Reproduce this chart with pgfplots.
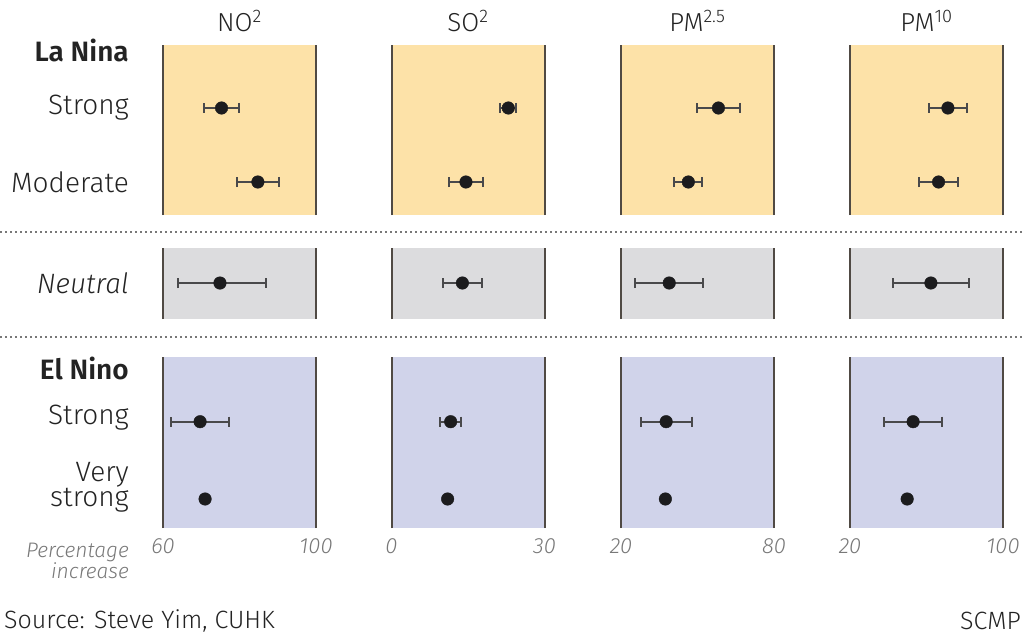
\documentclass[border=0pt]{standalone}
\usepackage{pgfplots}
\pgfplotsset{compat=1.18}
\usepackage{fontspec}
\setmainfont{Fira Sans}[UprightFont={* Light}, ItalicFont={* Light Italic}, BoldFont={* SemiBold}, BoldItalicFont={* SemiBold Italic}]

\definecolor{lanina}{RGB}{253,226,168}
\definecolor{neutral}{RGB}{220,220,222}
\definecolor{elnino}{RGB}{208,211,234}
\definecolor{edge}{RGB}{80,74,68}
\definecolor{ink}{RGB}{28,28,30}
\definecolor{txt}{RGB}{35,35,35}
\definecolor{tickc}{RGB}{120,120,120}

\pgfplotsset{
  panel/.style={
    scale only axis, anchor=north west, width=153pt, clip=false,
    ymin=0, separate axis lines,
    x axis line style={draw=none},
    y axis line style={draw=edge, line width=2pt},
    xtick=\empty, ytick=\empty,
    major tick length=0pt,
    /pgf/number format/assume math mode=true,
    xticklabel style={font=\fontsize{22}{22}\selectfont\itshape, text=tickc, yshift=-7pt},
  },
  la/.style={panel, height=170pt, ymax=170, axis background/.style={fill=lanina}},
  ne/.style={panel, height=71pt, ymax=71, axis background/.style={fill=neutral}},
  el/.style={panel, height=171pt, ymax=171, axis background/.style={fill=elnino}},
  no2/.style={xmin=60, xmax=100},
  so2/.style={xmin=0, xmax=30},
  pma/.style={xmin=20, xmax=80},
  pmb/.style={xmin=20, xmax=100},
  dot/.style={only marks, mark=*, mark size=6.3pt, color=ink},
  dotbar/.style={dot,
    error bars/.cd, x dir=both, x explicit, error mark=|,
    error bar style={line width=2pt, color=ink!80},
    error mark options={mark size=5pt, line width=2pt, color=ink!80}},
}

\begin{document}
\begin{tikzpicture}[x=1pt, y=-1pt]
\useasboundingbox (0,0) rectangle (1024,639);

% column titles
\begin{scope}[every node/.style={font=\fontsize{26}{26}\selectfont, text=txt}]
\node at (239.5,21) {NO\textsuperscript{2}};
\node at (468,21) {SO\textsuperscript{2}};
\node at (697.5,21) {PM\textsuperscript{2.5}};
\node at (926.5,21) {PM\textsuperscript{10}};
\end{scope}

% row labels
\begin{scope}[every node/.style={anchor=east, inner sep=0pt, text=txt, font=\fontsize{28}{28}\selectfont}]
\node[font=\fontsize{28}{28}\selectfont\bfseries] at (129,50) {La Nina};
\node at (129,108) {Strong};
\node at (129,182) {Moderate};
\node[font=\fontsize{28}{28}\selectfont\itshape] at (129,283) {Neutral};
\node[font=\fontsize{28}{28}\selectfont\bfseries] at (129,368) {El Nino};
\node at (129,418) {Strong};
\node[align=right, font=\fontsize{28}{24}\selectfont] at (129,487) {Very\\strong};
\node[align=right, text=tickc, font=\fontsize{21}{21}\selectfont\itshape] at (129,561) {Percentage\\increase};
\end{scope}

% separators
\draw[tickc, line width=1.5pt, dash pattern=on 1.5pt off 3.5pt] (0,232) -- (1024,232);
\draw[tickc, line width=1.5pt, dash pattern=on 1.5pt off 3.5pt] (0,337) -- (1024,337);

% ---- La Nina
\begin{axis}[la, no2, at={(163pt,-45pt)}]
\addplot[dotbar] coordinates {(75.3,107) +- (4.6,0) (84.8,33) +- (5.5,0)};
\end{axis}
\begin{axis}[la, so2, at={(391.5pt,-45pt)}]
\addplot[dotbar] coordinates {(22.9,107) +- (1.6,0) (14.6,33) +- (3.3,0)};
\end{axis}
\begin{axis}[la, pma, at={(621pt,-45pt)}]
\addplot[dotbar] coordinates {(58.2,107) +- (8.5,0) (46.4,33) +- (5.5,0)};
\end{axis}
\begin{axis}[la, pmb, at={(850pt,-45pt)}]
\addplot[dotbar] coordinates {(71.2,107) +- (10,0) (66.3,33) +- (10,0)};
\end{axis}

% ---- Neutral
\begin{axis}[ne, no2, at={(163pt,-248pt)}]
\addplot[dotbar] coordinates {(74.9,36) += (11.9,0) -= (11.1,0)};
\end{axis}
\begin{axis}[ne, so2, at={(391.5pt,-248pt)}]
\addplot[dotbar] coordinates {(13.9,36) +- (3.8,0)};
\end{axis}
\begin{axis}[ne, pma, at={(621pt,-248pt)}]
\addplot[dotbar] coordinates {(38.9,36) +- (13.3,0)};
\end{axis}
\begin{axis}[ne, pmb, at={(850pt,-248pt)}]
\addplot[dotbar] coordinates {(62.3,36) +- (19.9,0)};
\end{axis}

% ---- El Nino
\begin{axis}[el, no2, at={(163pt,-357pt)}, xtick={60,100}, xticklabels={\textit{60},\textit{100}}]
\addplot[dotbar] coordinates {(69.7,106.3) +- (7.6,0)};
\addplot[dot] coordinates {(71.0,29)};
\end{axis}
\begin{axis}[el, so2, at={(391.5pt,-357pt)}, xtick={0,30}, xticklabels={\textit{0},\textit{30}}]
\addplot[dotbar] coordinates {(11.6,106.3) +- (2,0)};
\addplot[dot] coordinates {(11.0,29)};
\end{axis}
\begin{axis}[el, pma, at={(621pt,-357pt)}, xtick={20,80}, xticklabels={\textit{20},\textit{80}}]
\addplot[dotbar] coordinates {(37.7,106.3) +- (10,0)};
\addplot[dot] coordinates {(37.4,29)};
\end{axis}
\begin{axis}[el, pmb, at={(850pt,-357pt)}, xtick={20,100}, xticklabels={\textit{20},\textit{100}}]
\addplot[dotbar] coordinates {(53,106.3) +- (15,0)};
\addplot[dot] coordinates {(49.9,29)};
\end{axis}

% footer
\node[anchor=west, inner sep=0pt, text=txt, font=\fontsize{25}{25}\selectfont] at (4,621) {Source: Steve Yim, CUHK};
\node[anchor=east, inner sep=0pt, text=txt, font=\fontsize{25}{25}\selectfont] at (1021,621) {SCMP};
\end{tikzpicture}
\end{document}
